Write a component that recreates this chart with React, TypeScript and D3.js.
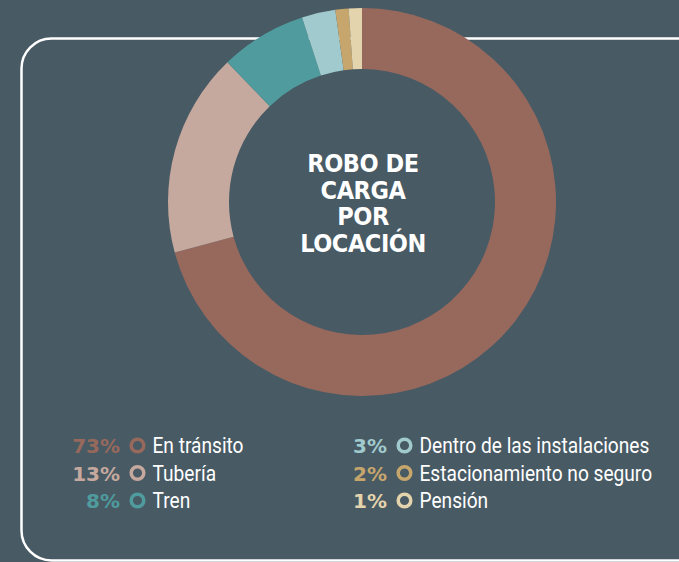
import React from "react";
import * as d3 from "d3";

// slice sizes as drawn in the ring, and the percentages printed in the legend
const categories = [
  "En tránsito",
  "Tubería",
  "Tren",
  "Dentro de las instalaciones",
  "Estacionamiento no seguro",
  "Pensión",
];
const shares = [70.8, 17.0, 7.2, 2.8, 1.1, 1.1];
const percentLabels = ["73%", "13%", "8%", "3%", "2%", "1%"];
const colors = ["#97695d", "#c5a89e", "#4f9b9d", "#a0cacd", "#c6a66c", "#e3d4ad"];
const titleLines = ["ROBO DE", "CARGA", "POR", "LOCACIÓN"];

const width = 679;
const height = 562;
const bg = "#485a64";

export default function App() {
  const cx = 362;
  const cy = 202;
  const outerR = 194;
  const innerR = 133;

  const pie = d3
    .pie<number>()
    .sort(null)
    .value((d) => d)
    .startAngle(0)
    .endAngle(2 * Math.PI);
  const arcs = pie(shares);
  const arc = d3.arc<d3.PieArcDatum<number>>().innerRadius(innerR).outerRadius(outerR);

  // legend grid: 2 columns x 3 rows
  const colX = d3.scaleOrdinal<number, number>().domain([0, 1]).range([120, 387]);
  const rowY = d3.scaleLinear().domain([0, 2]).range([453, 508]);
  const titleY = d3.scaleLinear().domain([0, 3]).range([172, 252]);

  return (
    <svg
      width={width}
      height={height}
      style={{ position: "fixed", left: 0, top: 0, display: "block" }}
    >
      <rect width={width} height={height} fill={bg} />
      <rect
        x={21.5}
        y={38.5}
        width={760}
        height={522}
        rx={30}
        ry={30}
        fill="none"
        stroke="#ffffff"
        strokeWidth={2.5}
      />
      <g transform={`translate(${cx},${cy})`}>
        {arcs.map((a, i) => (
          <path key={i} d={arc(a) || ""} fill={colors[i]} />
        ))}
      </g>
      <g
        fill="#ffffff"
        fontFamily="'DejaVu Sans', sans-serif"
        fontWeight="bold"
        fontSize={25}
        letterSpacing={-0.5}
        textAnchor="middle"
      >
        {titleLines.map((t, i) => (
          <text key={t} transform={`translate(${cx + 1},${titleY(i)}) scale(0.9,1)`}>
            {t}
          </text>
        ))}
      </g>
      <g>
        {categories.map((c, i) => {
          const col = Math.floor(i / 3);
          const row = i % 3;
          const x = colX(col);
          const y = rowY(row);
          return (
            <g key={c}>
              <text
                x={x}
                y={y}
                textAnchor="end"
                fill={colors[i]}
                fontFamily="'DejaVu Sans', sans-serif"
                fontWeight="bold"
                fontSize={20}
              >
                {percentLabels[i]}
              </text>
              <circle cx={x + 17.5} cy={y - 7.5} r={6.3} fill="none" stroke={colors[i]} strokeWidth={3.5} />
              <text
                transform={`translate(${x + 32.5},${y}) scale(0.87,1)`}
                fill="#ffffff"
                fontFamily="'Roboto', sans-serif"
                fontSize={22}
              >
                {c}
              </text>
            </g>
          );
        })}
      </g>
    </svg>
  );
}
